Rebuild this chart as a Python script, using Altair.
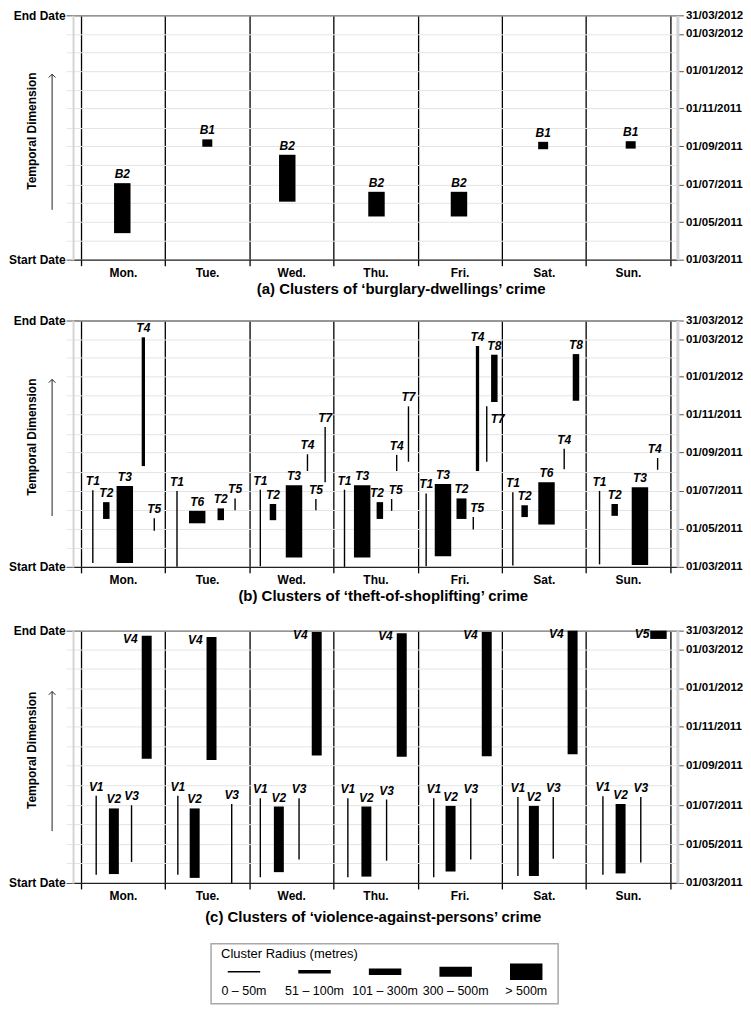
import altair as alt
import pandas as pd

FONT = "Liberation Sans"
DAYS = ["Mon.", "Tue.", "Wed.", "Thu.", "Fri.", "Sat.", "Sun."]
RADIUS_CLASSES = ["0 – 50m", "51 – 100m", "101 – 300m", "300 – 500m", "> 500m"]
RADIUS_WIDTHS = [1.4, 3.3, 6.5, 10, 16.5]
PERIOD_START = "2011-03-01"
PERIOD_END = "2012-03-31"
RIGHT_TICKS = ["2011-03-01", "2011-05-01", "2011-07-01", "2011-09-01",
               "2011-11-01", "2012-01-01", "2012-03-01", "2012-03-31"]
GRID_TICKS = ["2011-03-01", "2011-04-01", "2011-05-01", "2011-06-01", "2011-07-01",
              "2011-08-01", "2011-09-01", "2011-10-01", "2011-11-01", "2011-12-01",
              "2012-01-01", "2012-02-01", "2012-03-01", "2012-03-31"]

# (a) burglary-dwellings
a_label = ["B2", "B1", "B2", "B2", "B2", "B1", "B1"]
a_day = [0.49, 1.50, 2.45, 3.51, 4.49, 5.49, 6.53]
a_start = ["2011-04-13", "2011-08-31", "2011-06-03", "2011-05-10", "2011-05-10", "2011-08-27", "2011-08-28"]
a_end = ["2011-07-03", "2011-09-12", "2011-08-18", "2011-06-19", "2011-06-19", "2011-09-08", "2011-09-09"]
a_radius = [4, 3, 4, 4, 4, 3, 3]
a_place = ["top"] * 7

# (b) theft-of-shoplifting
b_label = ["T1", "T2", "T3", "T4", "T5",
           "T1", "T6", "T2", "T5",
           "T1", "T2", "T3", "T4", "T5", "T7",
           "T1", "T3", "T2", "T5", "T4", "T7",
           "T1", "T3", "T2", "T5", "T4", "T7", "T8",
           "T1", "T2", "T6", "T4", "T8",
           "T1", "T2", "T3", "T4"]
b_day = [0.14, 0.30, 0.52, 0.74, 0.87,
         1.14, 1.38, 1.66, 1.83,
         2.13, 2.28, 2.53, 2.69, 2.79, 2.90,
         3.13, 3.34, 3.55, 3.69, 3.75, 3.89,
         4.10, 4.30, 4.52, 4.66, 4.71, 4.82, 4.91,
         5.13, 5.27, 5.53, 5.74, 5.88,
         6.16, 6.34, 6.64, 6.85]
b_start = ["2011-03-07", "2011-05-17", "2011-03-07", "2011-08-10", "2011-04-28",
           "2011-03-01", "2011-05-10", "2011-05-15", "2011-05-31",
           "2011-03-02", "2011-05-15", "2011-03-16", "2011-08-02", "2011-05-31", "2011-07-15",
           "2011-03-01", "2011-03-16", "2011-05-17", "2011-05-30", "2011-08-02", "2011-08-17",
           "2011-03-02", "2011-03-18", "2011-05-17", "2011-04-30", "2011-08-02", "2011-08-17", "2011-11-21",
           "2011-03-03", "2011-05-20", "2011-05-08", "2011-08-05", "2011-11-23",
           "2011-03-05", "2011-05-22", "2011-03-04", "2011-08-04"]
b_end = ["2011-07-02", "2011-06-13", "2011-07-09", "2012-03-04", "2011-05-18",
         "2011-07-01", "2011-05-30", "2011-06-03", "2011-06-19",
         "2011-07-03", "2011-06-10", "2011-07-10", "2011-08-29", "2011-06-18", "2011-10-12",
         "2011-07-03", "2011-07-10", "2011-06-13", "2011-06-18", "2011-08-28", "2011-11-14",
         "2011-06-27", "2011-07-12", "2011-06-19", "2011-05-20", "2012-02-19", "2011-11-14", "2012-02-05",
         "2011-06-29", "2011-06-08", "2011-07-15", "2011-09-07", "2012-02-06",
         "2011-07-01", "2011-06-10", "2011-07-07", "2011-08-23"]
b_radius = [0, 2, 4, 1, 0,
            0, 4, 2, 0,
            0, 2, 4, 0, 0, 0,
            0, 4, 2, 0, 0, 0,
            0, 4, 3, 0, 1, 0, 2,
            0, 2, 4, 0, 2,
            0, 2, 4, 0]
b_place = (["top"] * 5 + ["top"] * 4 + ["top"] * 6 +
           ["top", "top", "top_l", "top_r", "top", "top"] +
           ["top", "top", "top", "top_r", "top", "right", "top"] +
           ["top"] * 5 + ["top", "top", "top", "top_l"])

# (c) violence-against-persons
c_label = ["V1", "V2", "V3", "V4"] * 6 + ["V1", "V2", "V3", "V5"]
c_day = [0.18, 0.39, 0.60, 0.78,
         1.15, 1.35, 1.79, 1.55,
         2.13, 2.35, 2.59, 2.80,
         3.17, 3.39, 3.63, 3.81,
         4.19, 4.39, 4.63, 4.82,
         5.19, 5.38, 5.61, 5.84,
         6.20, 6.41, 6.65, 6.86]
c_start = ["2011-03-14", "2011-03-15", "2011-04-03", "2011-09-12",
           "2011-03-14", "2011-03-09", "2011-03-01", "2011-09-10",
           "2011-03-10", "2011-03-18", "2011-04-07", "2011-09-17",
           "2011-03-10", "2011-03-11", "2011-04-05", "2011-09-15",
           "2011-03-10", "2011-03-19", "2011-04-07", "2011-09-16",
           "2011-03-12", "2011-03-12", "2011-04-08", "2011-09-19",
           "2011-03-14", "2011-03-16", "2011-04-02", "2012-03-18"]
c_end = ["2011-07-16", "2011-06-26", "2011-07-01", "2012-03-23",
         "2011-07-16", "2011-06-26", "2011-07-03", "2012-03-21",
         "2011-07-12", "2011-06-29", "2011-07-12", "2012-03-29",
         "2011-07-12", "2011-06-29", "2011-07-10", "2012-03-27",
         "2011-07-12", "2011-06-30", "2011-07-12", "2012-03-29",
         "2011-07-14", "2011-06-30", "2011-07-14", "2012-03-31",
         "2011-07-15", "2011-07-03", "2011-07-14", "2012-03-31"]
c_radius = [0, 3, 0, 3] * 6 + [0, 3, 0, 4]
c_place = ["top", "top", "top", "left"] * 7

W = 606
XS = alt.Scale(domain=[-0.095, 7.085], nice=False, zero=False)
WIDTH_EXPR = (f"[{','.join(str(w) for w in RADIUS_WIDTHS)}]"
              f"[indexof([{','.join(repr(c) for c in RADIUS_CLASSES)}], datum.radius)]")


def dt(s):
    y, m, d = (int(v) for v in s.split("-"))
    return alt.DateTime(year=y, month=m, date=d, utc=True)


def ms(s):
    return int(pd.Timestamp(s, tz="UTC").value // 10**6)


YS = alt.Scale(type="utc", domain=[dt(PERIOD_START), dt(PERIOD_END)], nice=False)
S_MS, E_MS = ms(PERIOD_START), ms(PERIOD_END)
ends_test = f"datum.value >= {E_MS - 1000} || datum.value <= {S_MS + 1000}"

day_list = "[" + ",".join(f"'{d}'" for d in DAYS) + "]"
X_BOTTOM = alt.Axis(orient="bottom", values=list(range(8)), grid=True, gridColor="black",
                    gridWidth=1.3, gridOpacity=1, domain=True, domainColor="#222",
                    domainWidth=1.3, ticks=True, tickColor="black", tickSize=6, tickWidth=1.3,
                    labelExpr=f"datum.value < 7 ? {day_list}[datum.value] : ''",
                    labelOffset=42, labelPadding=2, labelFlush=False, labelFont=FONT,
                    labelFontSize=12, labelFontWeight="bold", labelColor="black", title=None)
X_TOP = alt.Axis(orient="top", labels=False, ticks=False, grid=False, domain=True,
                 domainColor="#777", domainWidth=1.3, title=None)


def y_left(h):
    return alt.Axis(orient="left", values=[dt(s) for s in GRID_TICKS], grid=True,
                    gridColor="#e4e4e4", gridWidth=1, domain=True, domainColor="#d4d4d4",
                    domainWidth=2, ticks=True, tickSize=7,
                    tickColor={"condition": {"test": ends_test, "value": "#555"}, "value": "#e6e6e6"},
                    labelExpr=f"datum.value >= {E_MS - 1000} ? 'End Date' : (datum.value <= {S_MS + 1000} ? 'Start Date' : '')",
                    labelFlush=False, labelOverlap=False, labelPadding=1, labelFont=FONT,
                    labelFontSize=12, labelFontWeight="bold", labelColor="black",
                    title="Temporal Dimension", titleFont=FONT, titleFontSize=12,
                    titleFontWeight="bold", titleColor="black", titleAngle=-90,
                    titleX=-42, titleY=h / 2 - 7, titleAlign="center", titleBaseline="middle")


Y_RIGHT = alt.Axis(orient="right", values=[dt(s) for s in RIGHT_TICKS],
                   labelExpr="utcFormat(datum.value, '%d/%m/%Y')",
                   grid=False, domain=True, domainColor="#d4d4d4",
                   domainWidth=3, ticks=True, tickSize=6, tickColor="#555",
                   labelFlush=False, labelOverlap=False, labelPadding=2, labelFont=FONT,
                   labelFontSize=11.5, labelFontWeight="bold", labelColor="black", title=None)

PLACEMENTS = {
    "top": dict(align="center", baseline="alphabetic", dx=0, dy=-5),
    "top_l": dict(align="center", baseline="alphabetic", dx=-3, dy=-5),
    "top_r": dict(align="center", baseline="alphabetic", dx=4, dy=-5),
    "left": dict(align="right", baseline="middle", dx=-9, dy=3),
    "right": dict(align="left", baseline="middle", dx=4, dy=13),
}


def panel(labels, day, start, end, radius, place, title, title_dx, title_offset, h):
    df = pd.DataFrame({"label": labels, "pos": day, "start": start, "end": end,
                       "radius": [RADIUS_CLASSES[r] for r in radius], "place": place})
    base = alt.Chart(df)
    bars = base.transform_calculate(w=WIDTH_EXPR).mark_rule(color="black").encode(
        x=alt.X("pos:Q", scale=XS, axis=X_BOTTOM),
        y=alt.Y("start:T", scale=YS, axis=y_left(h)),
        y2=alt.Y2("end"),
        strokeWidth=alt.StrokeWidth("w:Q", scale=None, legend=None),
    )
    tk = dict(font=FONT, fontSize=12, fontWeight="bold", fontStyle="italic", color="black")
    layers = [bars]
    for i, (name, kw) in enumerate(PLACEMENTS.items()):
        first = i == 0
        layers.append(base.transform_filter(f"datum.place == '{name}'").mark_text(**kw, **tk).encode(
            x=alt.X("pos:Q", scale=XS, axis=X_TOP if first else None),
            y=alt.Y("end:T", scale=YS, axis=Y_RIGHT if first else None),
            text="label:N"))
    one = alt.Chart(pd.DataFrame({"k": [0]}))
    layers.append(one.mark_rule(color="#222", strokeWidth=1).encode(
        x=alt.value(-21), y=alt.value(round(0.24 * h)), y2=alt.value(round(0.795 * h))))
    layers.append(one.mark_point(shape="M-1,1L0,0L1,1", filled=False, size=45, color="#222",
                                 strokeWidth=1, opacity=1).encode(
        x=alt.value(-21), y=alt.value(round(0.24 * h))))
    return alt.layer(*layers).resolve_axis(x="independent", y="independent").properties(
        width=W, height=h,
        title=alt.TitleParams(text=title, orient="bottom", anchor="middle", font=FONT,
                              fontSize=15, fontWeight="bold", color="black",
                              offset=title_offset, dx=title_dx))


pa = panel(a_label, a_day, a_start, a_end, a_radius, a_place,
           "(a) Clusters of \u2018burglary-dwellings\u2019 crime", 26, 3, 245)
pb = panel(b_label, b_day, b_start, b_end, b_radius, b_place,
           "(b) Clusters of \u2018theft-of-shoplifting\u2019 crime", 8, 3, 247)
pc = panel(c_label, c_day, c_start, c_end, c_radius, c_place,
           "(c) Clusters of \u2018violence-against-persons\u2019 crime", -2, 8, 253)

LW = 348
leg_df = pd.DataFrame({"radius": RADIUS_CLASSES, "idx": list(range(len(RADIUS_CLASSES)))})
LX = alt.Scale(domain=[-0.466, 4.452], nice=False, zero=False)
sym = alt.Chart(leg_df).transform_calculate(
    x0="datum.idx - 0.23", x1="datum.idx + 0.23", w=WIDTH_EXPR).mark_rule(color="black").encode(
    x=alt.X("x0:Q", scale=LX, axis=None), x2=alt.X2("x1"), y=alt.value(28),
    strokeWidth=alt.StrokeWidth("w:Q", scale=None, legend=None))
lbl = alt.Chart(leg_df).mark_text(font=FONT, fontSize=12.5, color="black", baseline="middle").encode(
    x=alt.X("idx:Q", scale=LX, axis=None), y=alt.value(47), text="radius:N")
one_l = alt.Chart(pd.DataFrame({"t": ["Cluster Radius (metres)"]}))
ttl = one_l.mark_text(font=FONT, fontSize=13, color="black", align="left", baseline="middle").encode(
    x=alt.value(10), y=alt.value(10), text="t:N")
# invisible spacer that shifts the centred legend box to the left
pad = one_l.mark_text(font=FONT, fontSize=13, opacity=0, align="right", baseline="middle").encode(
    x=alt.value(LW + 46), y=alt.value(10), text=alt.value("........."))
legend = alt.layer(sym, lbl, ttl, pad).properties(
    width=LW, height=60, view=alt.ViewBackground(stroke="#a8a8a8", strokeWidth=1.5))

chart = alt.vconcat(pa, pb, pc, legend, spacing=18, center=True).properties(
    padding=0).configure_view(stroke=None)

chart.save("out.html", embed_options={"renderer": "svg", "actions": False})
